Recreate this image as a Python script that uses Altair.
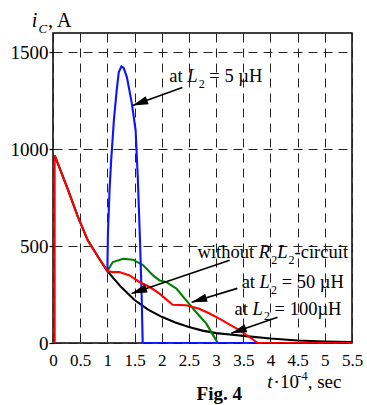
import altair as alt
import pandas as pd

FONT = "Liberation Serif"

# ---- data (t in 1e-4 s, current in A) ----
black_t = [0.03, 0.09, 0.28, 0.46, 0.64, 0.83, 1.0, 1.25, 1.5, 1.75, 2.0, 2.25, 2.5, 2.75, 3.0, 3.25, 3.5, 4.0, 4.5, 5.0, 5.5]
black_v = [968, 926, 788, 650, 530, 444, 371, 290, 222, 172, 135, 106, 82, 64, 51, 44, 37, 23, 13, 8, 5]

green_t = [1.0, 1.1, 1.29, 1.47, 1.66, 1.84, 1.96, 2.08, 2.27, 2.45, 2.63, 2.82, 3.0, 3.03]
green_v = [371, 418, 435, 430, 401, 349, 323, 315, 281, 220, 160, 100, 15, 0]

blue_t = [1.0, 1.01, 1.04, 1.07, 1.12, 1.17, 1.21, 1.26, 1.3, 1.36, 1.45, 1.52, 1.56, 1.6, 1.63, 1.65, 5.5]
blue_v = [371, 560, 787, 943, 1150, 1300, 1398, 1428, 1420, 1371, 1237, 1098, 850, 530, 250, 0, 0]

red_t = [0.0, 0.03, 0.03, 0.09, 0.28, 0.46, 0.64, 0.83, 1.0, 1.1, 1.22, 1.41, 1.59, 1.78, 1.96, 2.14, 2.2, 2.45,
         2.69, 2.88, 3.06, 3.25, 3.43, 3.61, 3.77, 5.5]
red_v = [0, 0, 968, 926, 788, 650, 530, 444, 371, 366, 366, 349, 315, 289, 255, 212, 197, 195,
         177, 152, 126, 95, 66, 31, 0, 0]

x_ticks = [0, 0.5, 1, 1.5, 2, 2.5, 3, 3.5, 4, 4.5, 5, 5.5]
y_ticks = [0, 500, 1000, 1500]

# arrows: (start t, start i, tip t, tip i, head angle)
arrow_t1 = [2.38, 3.25, 3.39, 4.13]
arrow_v1 = [1319, 427, 282, 133]
arrow_t2 = [1.464, 1.446, 2.55, 3.28]
arrow_v2 = [1226, 256, 210, 50]
arrow_ang = [250, 251, 253, 251]

xs = alt.Scale(domain=[0, 5.5], nice=False, zero=False)
ys = alt.Scale(domain=[0, 1600], nice=False)
XAX = alt.Axis(values=x_ticks, format="~g", title=None, grid=True, labelFlush=False, labelOverlap=False)
YAX = alt.Axis(values=y_ticks, format="d", title=None, grid=True, labelFlush=False, labelOverlap=False)


def X(f):
    return alt.X(f, scale=xs, axis=XAX)


def Y(f):
    return alt.Y(f, scale=ys, axis=YAX)


series = [("black", black_t, black_v), ("green", green_t, green_v),
          ("#0a14ff", blue_t, blue_v), ("#ff0000", red_t, red_v)]

layers = []
for col, ts, vs in series:
    df = pd.DataFrame({"t": ts, "v": vs, "o": list(range(len(ts)))})
    layers.append(alt.Chart(df).mark_line(color=col, strokeWidth=2.1, clip=True).encode(
        x=X("t:Q"), y=Y("v:Q"), order="o:Q"))

# arrows
adf = pd.DataFrame({"t1": arrow_t1, "v1": arrow_v1, "t2": arrow_t2, "v2": arrow_v2, "a": arrow_ang})
layers.append(alt.Chart(adf).mark_rule(color="black", strokeWidth=1.6).encode(
    x=X("t1:Q"), y=Y("v1:Q"), x2="t2:Q", y2="v2:Q"))
layers.append(alt.Chart(adf).mark_point(shape="M0,0L0.55,2L-0.55,2Z", filled=True, color="black",
                                        opacity=1, size=240, strokeWidth=0).encode(
    x=X("t2:Q"), y=Y("v2:Q"), angle=alt.Angle("a:Q", scale=None)))

# ---- rich text labels built from pieces ----
WN = {'a': .444, 't': .278, ' ': .25, '=': .564, 'µ': .5, 'H': .722, 'w': .722, 'i': .278, 'h': .5,
      'o': .5, 'u': .5, '-': .333, 'c': .444, 'r': .333, ',': .25, 'A': .722, '·': .25, 's': .389,
      'e': .444, '.': .25}
WI = {'L': .556, 'R': .611, 'i': .278, 't': .278, 'C': .667}


def cw(ch, italic):
    if ch.isdigit():
        return 0.5
    if italic and ch in WI:
        return WI[ch]
    return WN.get(ch, 0.5)


def rich(t0, v0, segs, fs, weight="normal"):
    out = []
    off = 0.0
    for text, kind in segs:
        small = kind in ("sub", "subi", "sup")
        size = fs * 0.65 if small else fs
        italic = kind in ("i", "subi")
        dy = fs * 0.28 if kind in ("sub", "subi") else (-fs * 0.42 if kind == "sup" else 0)
        lead = len(text) - len(text.lstrip(" "))
        off += lead * WN[' '] * size
        body = text.strip(" ")
        w = sum(cw(c, italic) for c in body) * size
        if italic:
            w += 0.06 * size
        if body:
            df = pd.DataFrame({"t": [t0], "v": [v0], "s": [body]})
            out.append(alt.Chart(df).mark_text(
                align="left", baseline="alphabetic", font=FONT, fontSize=size,
                fontStyle="italic" if italic else "normal", fontWeight=weight,
                dx=off, dy=dy, color="black").encode(
                x=X("t:Q"), y=Y("v:Q"), text="s:N"))
        off += w
        trail = len(text) - lead - len(body)
        off += max(trail, 0) * WN[' '] * size
    return out


FS = 18.5
layers += rich(2.14, 1345, [("at ", "n"), ("L", "i"), ("2", "sub"), (" = 5 µH", "n")], FS)
layers += rich(2.66, 437, [("without ", "n"), ("R", "i"), ("2", "sub"), ("L", "i"), ("2", "sub"), ("-circuit", "n")], FS)
layers += rich(3.47, 282, [("at ", "n"), ("L", "i"), ("2", "sub"), (" = 50 µH", "n")], FS)
layers += rich(3.34, 143, [("at ", "n"), ("L", "i"), ("2", "sub"), (" = 100µH", "n")], FS)
# axis titles
layers += rich(-0.39, 1629, [("i", "i"), ("C", "subi"), (", A", "n")], 20)
layers += rich(3.94, -234, [("t", "i"), ("·10", "n"), ("-4", "sup"), (", sec", "n")], 19)
layers += rich(2.64, -296, [("Fig. 4", "n")], 19, weight="bold")

chart = alt.layer(*layers).properties(
    width=299, height=310,
    autosize=alt.AutoSizeParams(type="none"),
    padding={"left": 53, "top": 33, "right": 15, "bottom": 62},
    background="white",
).configure_view(
    stroke="black", strokeWidth=1.5
).configure_axis(
    labelFont=FONT, labelColor="black", domain=False,
    gridColor="#222222", gridDash=[9, 6], gridWidth=1, gridOpacity=1,
).configure_axisX(
    labelFontSize=17, ticks=False, labelPadding=9,
).configure_axisY(
    labelFontSize=19, tickSize=4, tickColor="black", labelPadding=1, tickWidth=1.2,
)

chart.save("out.html", embed_options={"renderer": "svg", "actions": False})
